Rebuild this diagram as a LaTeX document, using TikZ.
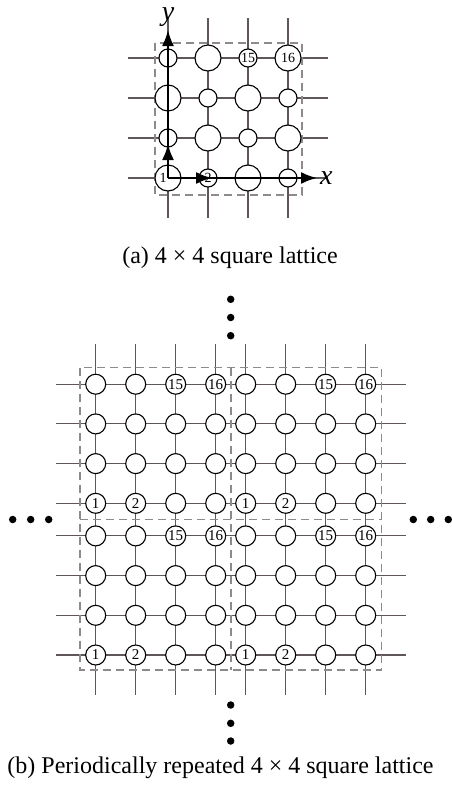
\documentclass[tikz,border=0pt]{standalone}
\usepackage{fontspec}
\setmainfont{Liberation Serif}
\usetikzlibrary{arrows.meta,backgrounds}

\definecolor{bondgray}{HTML}{5F5757}
\definecolor{cellgray}{HTML}{8E8A8A}

% number printed in a site: only 1, 2, 15 and 16 are shown
\newcommand{\sitenum}[2]{%
  \ifnum#2=1 \ifnum#1<3 \the\numexpr4*#2-4+#1\relax\fi\fi
  \ifnum#2=4 \ifnum#1>2 \the\numexpr4*#2-4+#1\relax\fi\fi}

\tikzset{
  bond/.style={color=bondgray, line width=1.1pt},
  cell/.style={color=cellgray, line width=1.1pt, dash pattern=on 8pt off 5pt},
  site/.style={circle, draw=black, fill=white, line width=1.1pt, inner sep=0pt},
  num/.style={inner sep=0pt, font=\fontsize{14}{14}\selectfont},
  cellsite/.style={site, minimum size=20pt, font=\fontsize{15}{15}\selectfont},
  dot/.style={circle, fill=black, inner sep=0pt, minimum size=7.5pt},
  axis/.style={black, line width=2pt, -{Latex[length=16pt,width=12pt]}},
  caption/.style={anchor=base, font=\fontsize{24}{24}\selectfont},
  axislabel/.style={font=\fontsize{28}{28}\selectfont\itshape, inner sep=2pt},
}

\begin{document}
\begin{tikzpicture}[x=1pt,y=-1pt]
    \useasboundingbox (0,0) rectangle (452,785);

    % (a) sites, big and small in a checkerboard
    \foreach \i in {1,...,4}
      \foreach \j in {1,...,4} {
        \pgfmathsetmacro\sz{ifthenelse(mod(\i+\j,2)==0,26,18)}
        \pgfmathsetmacro\nx{ifthenelse(\i+\j==2,-5,0)}
        \node[site, minimum size=\sz pt,
              label={[num, xshift=\nx pt]center:\sitenum{\i}{\j}}]
          (a\i\j) at (128+40*\i, 218-40*\j) {};
      }

    % grid lines and cell behind the sites
    \begin{scope}[on background layer]
      \foreach \k in {1,...,4} {
        \draw[bond] ([xshift=-40pt]a1\k.center) -- ([xshift=40pt]a4\k.center);
        \draw[bond] ([yshift=40pt]a\k4.center) -- ([yshift=-40pt]a\k1.center);
      }
      \draw[cell] (155,43) rectangle (302,195);
    \end{scope}

    % axes and lattice vectors
    \coordinate (xtip) at (317,178);
    \coordinate (ytip) at (168,30);
    \draw[axis] (a11.center) -- (xtip) node[axislabel, right] (xlab) {x};
    \draw[axis] (a11.center) -- (ytip) node[axislabel, above] (ylab) {y};
    \draw[axis] (a11.center) -- ([xshift=4pt]a21.center);
    \draw[axis] (a11.center) -- ([yshift=-6pt]a12.center);

    \node[caption] (capA) at (230,263) {(a) 4 × 4 square lattice};

    % (b) four copies of the cell
    \foreach \bx/\ox in {1/95.7, 2/245.7}
      \foreach \by/\oy in {1/655, 2/503.3}
        \foreach \i in {1,...,4}
          \foreach \j in {1,...,4}
            \node[cellsite] (b\bx\by-\i\j) at (\ox+40*\i-40, \oy-39.7*\j+39.7) {\sitenum{\i}{\j}};

    \begin{scope}[on background layer]
      \foreach \n in {1,2}
        \foreach \k in {1,...,4} {
          \draw[bond] ([xshift=-40pt]b1\n-1\k.center) -- ([xshift=40pt]b2\n-4\k.center);
          \draw[bond] ([yshift=40pt]b\n2-\k4.center) -- ([yshift=-40pt]b\n1-\k1.center);
        }
      \draw[cell] (80,367.7) rectangle (381.7,670);
      \draw[cell] (231,367.7) -- (231,670);
      \draw[cell] (80,519.3) -- (381.7,519.3);
    \end{scope}

    % dots for the repetition
    \foreach \m/\y in {1/299.3, 2/317.5, 3/335.7}
      \node[dot] (up\m) at (230.7,\y) {};
    \foreach \m/\y in {1/705, 2/723.3, 3/741}
      \node[dot] (down\m) at (230.7,\y) {};
    \foreach \m/\x in {1/12.7, 2/30.7, 3/48.7}
      \node[dot] (left\m) at (\x,519.5) {};
    \foreach \m/\x in {1/413.3, 2/430.7, 3/448.3}
      \node[dot] (right\m) at (\x,519.5) {};

    \node[caption] (capB) at (220.5,773) {(b) Periodically repeated 4 × 4 square lattice};

\end{tikzpicture}
\end{document}
